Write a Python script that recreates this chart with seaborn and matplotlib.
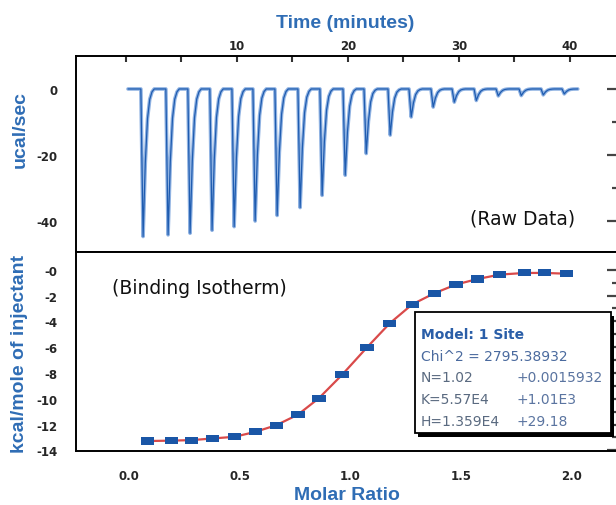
import numpy as np
import pandas as pd
import matplotlib
matplotlib.use("Agg")
import matplotlib.pyplot as plt
from matplotlib.patches import Rectangle
from matplotlib.path import Path
from matplotlib.ticker import FixedLocator
import seaborn as sns

# raw ITC trace: injection tip times (min) and peak heights (ucal/sec)
peak_times = [1.56, 3.81, 5.79, 7.77, 9.76, 11.65, 13.63, 15.7, 17.68, 19.76,
              21.65, 23.81, 25.7, 27.68, 29.58, 31.56, 33.54, 35.61, 37.59, 39.48]
peak_heights = [-44.8, -44.3, -43.8, -42.9, -41.8, -40.1, -38.4, -36.0, -32.3, -26.2,
                -19.6, -14.0, -8.5, -5.5, -4.0, -3.5, -2.1, -2.0, -1.8, -1.5]
run_start, run_end = 0.2, 40.7

# shape of one injection peak: offset from tip (min), fraction of peak height
shape_dt = [-0.2, 0.0, 0.2, 0.4, 0.6, 0.8, 1.0]
shape_frac = [0.0, 1.0, 0.5, 0.2, 0.07, 0.02, 0.0]

# integrated heats (binding isotherm)
molar_ratio = [0.085, 0.191, 0.284, 0.379, 0.478, 0.573, 0.666, 0.764, 0.859, 0.963,
               1.076, 1.179, 1.280, 1.380, 1.478, 1.576, 1.676, 1.789, 1.880, 1.978]
heat = [-13.28, -13.25, -13.21, -13.08, -12.95, -12.56, -12.05, -11.23, -9.95, -8.15,
        -6.02, -4.15, -2.69, -1.83, -1.15, -0.72, -0.38, -0.25, -0.25, -0.31]

fit_names = ["N=1.02", "K=5.57E4", "H=1.359E4"]
fit_errors = ["+0.0015932", "+1.01E3", "+29.18"]

# build the trace from the peak list
t = [run_start]
p = [0.0]
for tp, h in zip(peak_times, peak_heights):
    for dt, f in zip(shape_dt, shape_frac):
        t.append(tp + dt)
        p.append(h * f)
t.append(run_end)
p.append(0.0)
raw = pd.DataFrame({"time": t, "power": p})
iso = pd.DataFrame({"ratio": molar_ratio, "heat": heat})

sns.set_theme(style="white")
plt.rcParams["font.family"] = ["DejaVu Sans"]

BLUE = "#2f6db5"
W, H = 616, 506
fig = plt.figure(figsize=(6.16, 5.06), dpi=100)

def fx(px):
    return px / W

def fy(py):
    return 1 - py / H

left, right = 76, 620
ax1 = fig.add_axes([fx(left), fy(253), fx(right - left), (253 - 56.7) / H])
ax2 = fig.add_axes([fx(left), fy(451.7), fx(right - left), (451.7 - 253.3) / H])

# --- raw data
sns.lineplot(data=raw, x="time", y="power", ax=ax1, sort=False, estimator=None,
             color="#8fb2e2", lw=2.6)
sns.lineplot(data=raw, x="time", y="power", ax=ax1, sort=False, estimator=None,
             color="#1f5cb0", lw=0.9)
ax1.set_xlim(-4.48, 44.5)
ax1.set_ylim(-49.5, 10.1)

# --- isotherm
sns.lineplot(data=iso, x="ratio", y="heat", ax=ax2, color="#d94a4a", lw=1.6)
rect = Path([(-1, -0.54), (1, -0.54), (1, 0.54), (-1, 0.54), (-1, -0.54)], closed=True)
sns.scatterplot(data=iso, x="ratio", y="heat", ax=ax2, marker=rect, s=90,
                color="#1a56a6", edgecolor="none", zorder=3)
ax2.set_xlim(-0.24, 2.22)
ax2.set_ylim(-14.03, 1.35)

tick_font = {"family": "DejaVu Sans", "weight": "bold", "size": 8.5}
for ax in (ax1, ax2):
    ax.set_xlabel("")
    ax.set_ylabel("")
    for s in ax.spines.values():
        s.set_color("black")
        s.set_linewidth(1.4)

# top panel ticks
ax1.xaxis.set_ticks_position("top")
ax1.xaxis.set_major_locator(FixedLocator([10, 20, 30, 40]))
ax1.xaxis.set_minor_locator(FixedLocator([0, 5, 15, 25, 35]))
ax1.set_xticklabels(["10", "20", "30", "40"], fontdict=tick_font)
ax1.tick_params(axis="x", which="both", direction="in", length=4.5, width=1.5,
                color="#333333", pad=3)
ax1.yaxis.set_major_locator(FixedLocator([0, -20, -40]))
ax1.yaxis.set_minor_locator(FixedLocator([10, -10, -30]))
ax1.set_yticklabels(["0", "-20", "-40"], fontdict=tick_font)
ax1.tick_params(axis="y", which="major", direction="out", length=10, width=1.6,
                color="#444444", pad=3)
ax1.tick_params(axis="y", which="minor", direction="out", length=6.5, width=1.6,
                color="#444444")
b1 = ax1.secondary_xaxis("bottom")
b1.xaxis.set_major_locator(FixedLocator([0, 5, 10, 15, 20, 25, 30, 35, 40]))
b1.tick_params(direction="out", length=4.5, width=1.5, color="#444444", labelbottom=False)
r1 = ax1.secondary_yaxis("right")
r1.yaxis.set_major_locator(FixedLocator([0, -20, -40]))
r1.yaxis.set_minor_locator(FixedLocator([-10, -30]))
r1.tick_params(which="major", direction="in", length=9.5, width=1.6, color="#444444",
               labelright=False)
r1.tick_params(which="minor", direction="in", length=6, width=1.6, color="#444444")

# bottom panel ticks
ax2.xaxis.set_major_locator(FixedLocator([0, 0.5, 1.0, 1.5, 2.0]))
ax2.xaxis.set_minor_locator(FixedLocator([0.25, 0.75, 1.25, 1.75]))
ax2.set_xticklabels(["0.0", "0.5", "1.0", "1.5", "2.0"], fontdict=tick_font)
ax2.tick_params(axis="x", which="both", direction="out", length=4.5, width=1.5,
                color="#444444", pad=9)
ax2.yaxis.set_major_locator(FixedLocator([0, -2, -4, -6, -8, -10, -12, -14]))
ax2.yaxis.set_minor_locator(FixedLocator([1, -1, -3, -5, -7, -9, -11, -13]))
ax2.set_yticklabels(["-0", "-2", "-4", "-6", "-8", "-10", "-12", "-14"], fontdict=tick_font)
ax2.tick_params(axis="y", which="major", direction="out", length=11.5, width=1.6,
                color="#444444", pad=2)
ax2.tick_params(axis="y", which="minor", direction="out", length=8, width=1.6,
                color="#444444")
r2 = ax2.secondary_yaxis("right")
r2.yaxis.set_major_locator(FixedLocator([0, -2, -4, -6, -8, -10, -12, -14]))
r2.yaxis.set_minor_locator(FixedLocator([-1, -3, -5, -7, -9, -11, -13]))
r2.tick_params(which="major", direction="in", length=9.5, width=1.6, color="#444444",
               labelright=False)
r2.tick_params(which="minor", direction="in", length=6, width=1.6, color="#444444")

# axis titles
lab = {"family": "Liberation Sans", "weight": "bold", "size": 14, "color": BLUE}
fig.text(fx(345), fy(24), "Time (minutes)", ha="center", va="center", **lab)
fig.text(fx(347), fy(496), "Molar Ratio", ha="center", va="center", **lab)
fig.text(fx(20), fy(129), "ucal/sec", ha="center", va="center", rotation=90, **lab)
fig.text(fx(20), fy(353.5), "kcal/mole of injectant", ha="center", va="center",
         rotation=90, **lab)

# panel captions
fig.text(fx(523), fy(219), "(Raw Data)", ha="center", va="center",
         fontsize=13.5, color="#111111")
fig.text(fx(199), fy(288), "(Binding Isotherm)", ha="center", va="center",
         fontsize=13.5, color="#111111")

# fit summary box with drop shadow
fig.add_artist(Rectangle((fx(418), fy(438)), fx(196), 121 / H, transform=fig.transFigure,
                         facecolor="black", edgecolor="none", zorder=5))
fig.add_artist(Rectangle((fx(415), fy(434)), fx(196), 121 / H, transform=fig.transFigure,
                         facecolor="white", edgecolor="black", lw=1.3, zorder=6))
fig.text(fx(421), fy(335), "Model: 1 Site", ha="left", va="center", fontsize=10,
         weight="bold", color="#2a5ea8", zorder=7)
fig.text(fx(421), fy(356.7), "Chi^2 = 2795.38932", ha="left", va="center", fontsize=10,
         color="#4a6a9e", zorder=7)
for i, (nm, er) in enumerate(zip(fit_names, fit_errors)):
    y = fy([378.4, 400.5, 421.8][i])
    fig.text(fx(421), y, nm, ha="left", va="center", fontsize=10, color="#5a6a80", zorder=7)
    fig.text(fx(517), y, er, ha="left", va="center", fontsize=10, color="#5a74a0", zorder=7)

fig.savefig("out.png", dpi=100)
